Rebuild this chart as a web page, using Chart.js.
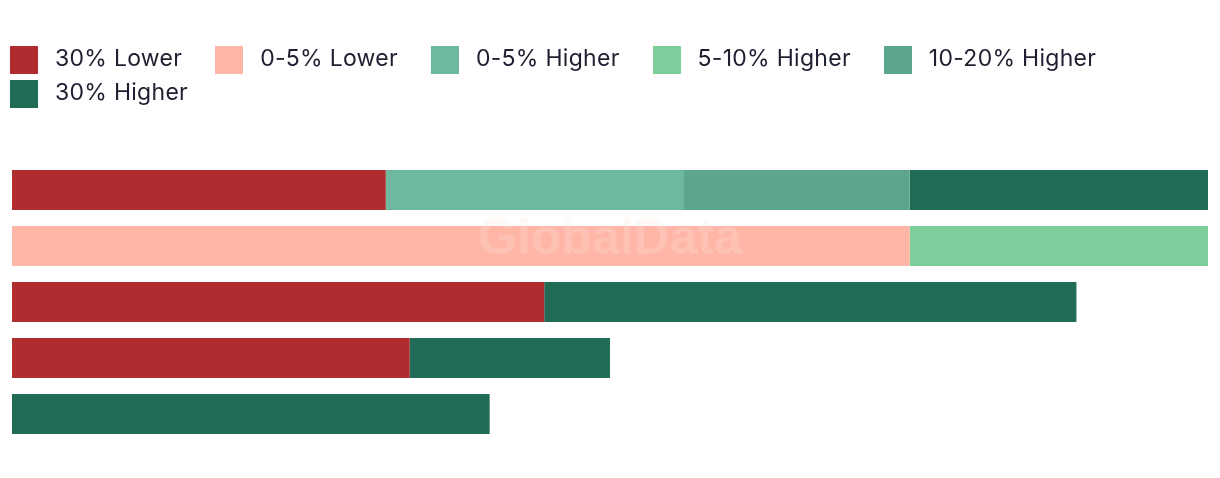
<!DOCTYPE html>
<html>
<head>
<meta charset="utf-8">
<script src="https://cdn.jsdelivr.net/npm/chart.js@4"></script>
<style>
    html, body { margin: 0; padding: 0; background: #fff; }
    #wrap { position: relative; width: 1220px; height: 478px; }
    #legend {
        position: absolute; left: 10px; top: 46px; width: 1200px;
        display: flex; flex-wrap: wrap; row-gap: 6px;
        font-family: Inter, "Noto Sans", sans-serif; font-size: 23px; color: #1e1f30;
        letter-spacing: 0.28px;
    }
    .item { display: flex; align-items: center; margin-right: 33px; height: 28px; line-height: 28px; }
    .box { width: 28px; height: 28px; margin-right: 17px; }
    .item span + span { position: relative; top: -2px; }
</style>
</head>
<body>
<div id="wrap">
    <canvas id="myChart" width="1220" height="478"></canvas>
    <div id="legend"></div>
</div>
<script>
const categories = ["Group 1", "Group 2", "Group 3", "Group 4", "Group 5"];
const seriesNames = ["30% Lower", "0-5% Lower", "0-5% Higher", "5-10% Higher", "10-20% Higher", "30% Higher"];
const lower30 = [5.0, 0, 7.12, 5.32, 0];
const lower0to5 = [0, 12.01, 0, 0, 0];
const higher0to5 = [3.99, 0, 0, 0, 0];
const higher5to10 = [0, 3.99, 0, 0, 0];
const higher10to20 = [3.02, 0, 0, 0, 0];
const higher30 = [3.99, 0, 7.12, 2.68, 6.39];
const colors = ["#b02c2f", "#ffb6a6", "#6fb8a0", "#7fcd9b", "#5ea58e", "#216b57"];

const seriesData = [lower30, lower0to5, higher0to5, higher5to10, higher10to20, higher30];

const watermark = {
    id: "watermark",
    afterDatasetsDraw(chart) {
        const c = chart.ctx;
        c.save();
        c.font = "bold 50px 'Liberation Sans', Arial, sans-serif";
        c.fillStyle = "rgba(250, 230, 225, 0.25)";
        c.textAlign = "center";
        c.textBaseline = "middle";
        c.fillText("GlobalData", 610, 240);
        c.restore();
    }
};

const htmlLegend = {
    id: "htmlLegend",
    afterUpdate(chart) {
        const box = document.getElementById("legend");
        box.innerHTML = "";
        chart.data.datasets.forEach(function (ds) {
            const item = document.createElement("div");
            item.className = "item";
            const sw = document.createElement("span");
            sw.className = "box";
            sw.style.background = ds.backgroundColor;
            const txt = document.createElement("span");
            txt.textContent = ds.label;
            item.appendChild(sw);
            item.appendChild(txt);
            box.appendChild(item);
        });
    }
};

document.addEventListener("DOMContentLoaded", function () {
    const ctx = document.getElementById("myChart").getContext("2d");
    new Chart(ctx, {
        type: "bar",
        data: {
            labels: categories,
            datasets: seriesNames.map(function (name, i) {
                return {
                    label: name,
                    data: seriesData[i],
                    backgroundColor: colors[i],
                    borderWidth: 0,
                    barPercentage: 40 / 56,
                    categoryPercentage: 1,
                };
            }),
        },
        options: {
            indexAxis: "y",
            responsive: false,
            animation: false,
            layout: { padding: { left: 12, right: 12, top: 162, bottom: 36 } },
            scales: {
                x: { stacked: true, display: false, min: 0, max: 16 },
                y: { stacked: true, display: false },
            },
            plugins: {
                legend: { display: false },
                tooltip: { enabled: false },
            },
        },
        plugins: [watermark, htmlLegend],
    });
});
</script>
</body>
</html>
